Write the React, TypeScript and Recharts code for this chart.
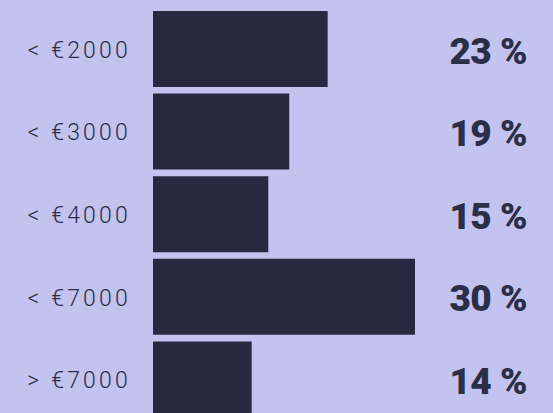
import React from "react";
import { BarChart, Bar, XAxis, YAxis, LabelList } from "recharts";

const categories = ["< €2000", "< €3000", "< €4000", "< €7000", "> €7000"];
const barValues = [20.0, 15.6, 13.2, 30.0, 11.3];
const percentLabels = ["23 %", "19 %", "15 %", "30 %", "14 %"];

const data = categories.map((name, i) => ({
  name,
  value: barValues[i],
  label: percentLabels[i],
}));

const BG = "#c3c3f0";
const BAR = "#252a40";
const TEXT = "#2a2e47";
const W = 553;
const H = 421;

const CatTick = (props: any) => {
  const { x, y, payload } = props;
  return (
    <text
      x={x}
      y={y + 1}
      textAnchor="end"
      dominantBaseline="central"
      fill={TEXT}
      fontFamily="Roboto, 'DejaVu Sans', sans-serif"
      fontWeight={300}
      fontSize={23}
      letterSpacing={3.2}
    >
      {payload.value}
    </text>
  );
};

const PctLabel = (props: any) => {
  const { y, height, index } = props;
  return (
    <text
      x={527}
      y={y + height / 2 + 2}
      textAnchor="end"
      dominantBaseline="central"
      fill={TEXT}
      fontFamily="Roboto, 'DejaVu Sans', sans-serif"
      fontWeight={900}
      fontSize={37}
      letterSpacing={-0.5}
    >
      {percentLabels[index]}
    </text>
  );
};

export default function App() {
  return (
    <div
      style={{
        position: "absolute",
        left: 0,
        top: 0,
        width: W,
        height: 413,
        background: BG,
        overflow: "hidden",
      }}
    >
      <BarChart
        width={W}
        height={H}
        data={data}
        layout="vertical"
        margin={{ top: 8, right: 138, left: 0, bottom: 0 }}
        barSize={76}
      >
        <XAxis type="number" domain={[0, 30]} hide />
        <YAxis
          type="category"
          dataKey="name"
          width={153}
          axisLine={false}
          tickLine={false}
          tickSize={0}
          tickMargin={22}
          tick={<CatTick />}
          interval={0}
        />
        <Bar dataKey="value" fill={BAR} isAnimationActive={false}>
          <LabelList dataKey="label" content={<PctLabel />} />
        </Bar>
      </BarChart>
    </div>
  );
}
